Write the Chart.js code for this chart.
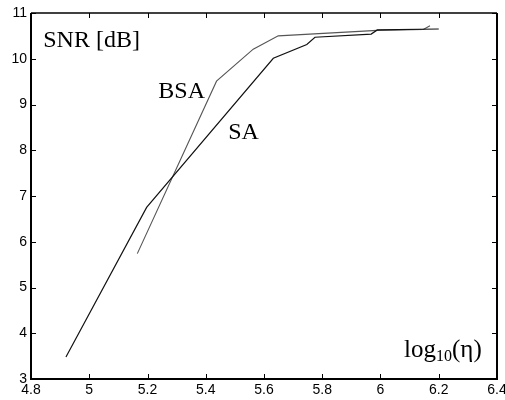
<!DOCTYPE html>
<html>
<head>
<meta charset="utf-8">
<script src="https://cdn.jsdelivr.net/npm/chart.js@4.4.1/dist/chart.umd.min.js"></script>
<style>
  html, body { margin: 0; padding: 0; background: #fff; }
  #wrap { width: 505px; height: 400px; }
</style>
</head>
<body>
<div id="wrap"><canvas id="c" width="505" height="400"></canvas></div>
<script>
// ---- data ----
const saX  = [4.92, 5.197, 5.632, 5.747, 5.775, 5.968, 5.989, 6.20];
const saY  = [3.48, 6.75, 10.01, 10.31, 10.47, 10.54, 10.63, 10.65];
const bsaX = [5.165, 5.437, 5.563, 5.649, 5.989, 6.147, 6.17];
const bsaY = [5.74, 9.51, 10.21, 10.50, 10.62, 10.64, 10.72];
const xTicks = [4.8, 5, 5.2, 5.4, 5.6, 5.8, 6, 6.2, 6.4];
const yTicks = [3, 4, 5, 6, 7, 8, 9, 10, 11];
// annotation anchors (data coordinates)
const labels = [
  { text: 'SNR [dB]', x: 4.842, y: 10.263 },
  { text: 'BSA', x: 5.237, y: 9.146 },
  { text: 'SA', x: 5.477, y: 8.246 }
];
const xLabelPos = { x: 6.081, y: 3.481 };

const toPts = (xs, ys) => xs.map((x, i) => ({ x, y: ys[i] }));

const framePlugin = {
  id: 'frame',
  afterDraw(chart) {
    const { ctx, chartArea: a, scales } = chart;
    const xs = scales.x, ys = scales.y;
    ctx.save();
    ctx.strokeStyle = '#000';
    // inward tick marks
    ctx.lineWidth = 1;
    const tl = 5;
    ctx.beginPath();
    xTicks.forEach(v => {
      const p = Math.round(xs.getPixelForValue(v)) + 0.5;
      ctx.moveTo(p, a.bottom); ctx.lineTo(p, a.bottom - tl);
      ctx.moveTo(p, a.top); ctx.lineTo(p, a.top + tl);
    });
    yTicks.forEach(v => {
      const p = Math.round(ys.getPixelForValue(v)) + 0.5;
      ctx.moveTo(a.left, p); ctx.lineTo(a.left + tl, p);
      ctx.moveTo(a.right, p); ctx.lineTo(a.right - tl, p);
    });
    ctx.stroke();
    // frame
    ctx.lineWidth = 1.5;
    ctx.beginPath();
    ctx.moveTo(a.left, a.top); ctx.lineTo(a.right, a.top);
    ctx.stroke();
    ctx.lineWidth = 2;
    ctx.beginPath();
    ctx.moveTo(a.right, a.top); ctx.lineTo(a.right, a.bottom);
    ctx.lineTo(a.left, a.bottom); ctx.lineTo(a.left, a.top);
    ctx.stroke();

    // text annotations
    ctx.fillStyle = '#000';
    ctx.textBaseline = 'alphabetic';
    ctx.textAlign = 'left';
    const serif = '"Liberation Serif", "Times New Roman", Times, serif';
    ctx.font = '24px ' + serif;
    labels.forEach(l => {
      ctx.fillText(l.text, xs.getPixelForValue(l.x), ys.getPixelForValue(l.y));
    });
    // log10(eta)
    let px = xs.getPixelForValue(xLabelPos.x);
    const py = ys.getPixelForValue(xLabelPos.y);
    ctx.font = '25px ' + serif;
    ctx.fillText('log', px, py);
    px += ctx.measureText('log').width;
    ctx.font = '16px ' + serif;
    ctx.fillText('10', px, py + 4);
    px += ctx.measureText('10').width;
    ctx.font = '25px ' + serif;
    ctx.fillText('(η)', px, py);
    ctx.restore();
  }
};

const tickFont = { family: '"Liberation Sans", Arial, Helvetica, sans-serif', size: 14 };

new Chart(document.getElementById('c'), {
  type: 'scatter',
  data: {
    datasets: [
      {
        label: 'SA',
        data: toPts(saX, saY),
        showLine: true,
        borderColor: '#111',
        borderWidth: 1.2,
        pointRadius: 0,
        tension: 0,
        fill: false
      },
      {
        label: 'BSA',
        data: toPts(bsaX, bsaY),
        showLine: true,
        borderColor: '#555',
        borderWidth: 1.1,
        pointRadius: 0,
        tension: 0,
        fill: false
      }
    ]
  },
  options: {
    responsive: false,
    animation: false,
    devicePixelRatio: 1,
    layout: { padding: { top: 13, right: 8, left: 0, bottom: 0 } },
    plugins: { legend: { display: false }, tooltip: { enabled: false } },
    scales: {
      x: {
        type: 'linear',
        min: 4.8, max: 6.4,
        afterBuildTicks: s => { s.ticks = xTicks.map(v => ({ value: v })); },
        afterFit: s => { s.height = 21; s.paddingLeft = 0; s.paddingRight = 0; },
        grid: { display: false, drawTicks: false },
        border: { display: false },
        ticks: { color: '#000', font: tickFont, padding: 3, maxRotation: 0, autoSkip: false,
                 callback: v => String(+v.toFixed(1)) }
      },
      y: {
        type: 'linear',
        min: 3, max: 11,
        afterBuildTicks: s => { s.ticks = yTicks.map(v => ({ value: v })); },
        afterFit: s => { s.width = 31; s.paddingTop = 0; s.paddingBottom = 0; },
        grid: { display: false, drawTicks: false },
        border: { display: false },
        ticks: { color: '#000', font: tickFont, padding: 4, autoSkip: false,
                 callback: v => String(v) }
      }
    }
  },
  plugins: [framePlugin]
});
</script>
</body>
</html>
